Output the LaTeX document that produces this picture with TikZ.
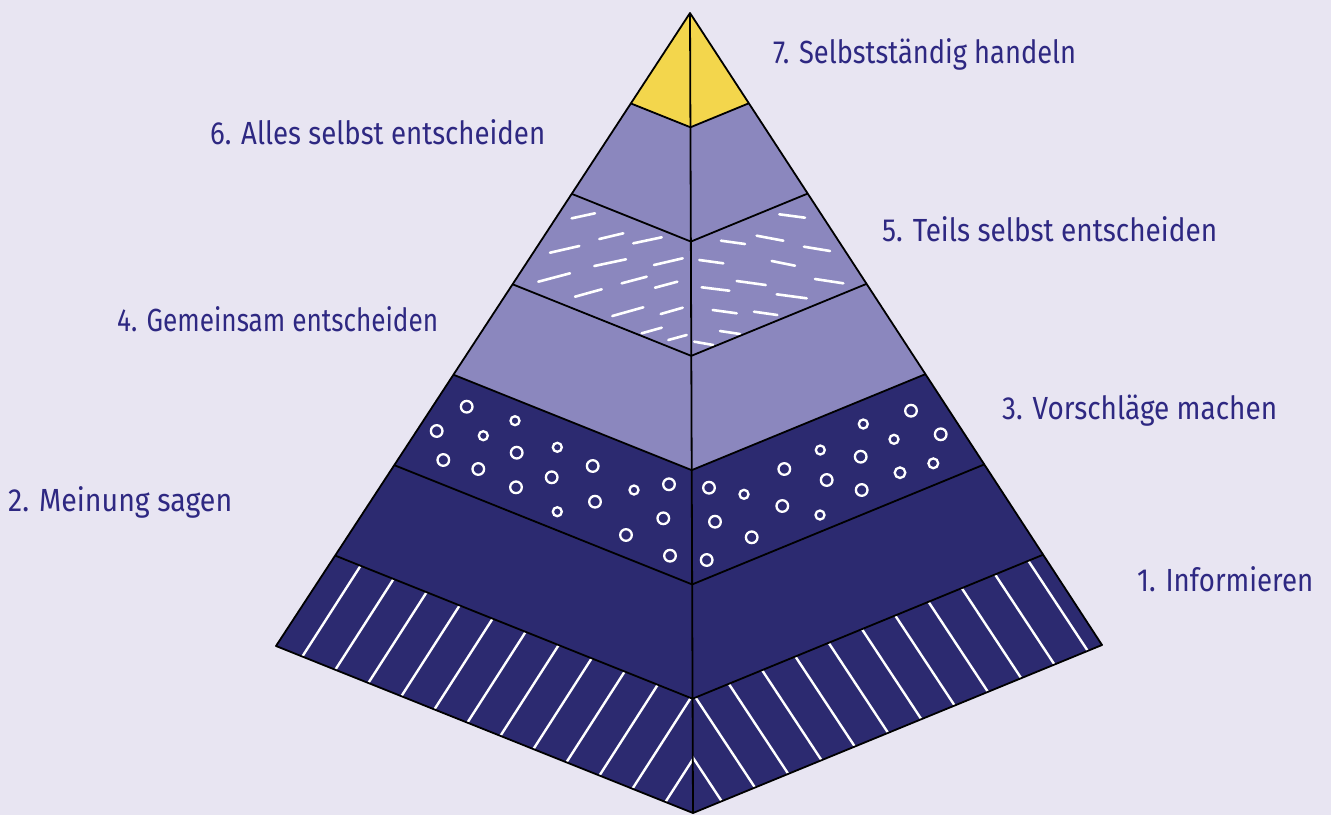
\documentclass[tikz,border=0pt]{standalone}
\usepackage{fontspec}
\setmainfont{Fira Sans}
\usetikzlibrary{calc}
\definecolor{bg}{HTML}{E8E5F2}
\definecolor{yel}{HTML}{F3D64C}
\definecolor{lite}{HTML}{8B87BE}
\definecolor{dark}{HTML}{2C2A70}
\definecolor{txt}{HTML}{2E2882}
\newcommand\fitw[2]{\resizebox{#1pt}{\height}{#2}}
\begin{document}
\begin{tikzpicture}[x=1pt,y=-1pt,
  edge/.style={draw=black,line width=1.8pt,line join=round},
  stripe/.style={draw=white,line width=2.4pt},
  dashmark/.style={draw=white,line width=2.6pt,line cap=round},
  ring/.style={draw=white,line width=2.3pt},
  lab/.style={font=\fontsize{32}{38}\selectfont,text=txt,anchor=base west,inner sep=0pt}]
\fill[bg] (0,0) rectangle (1331,815);
\useasboundingbox (0,0) rectangle (1331,815);
\coordinate (A) at (690,13);
\coordinate (L) at (276,646);
\coordinate (R) at (1102,645);
\coordinate (B) at (693,813);
\foreach \k in {1,...,6}{
  \coordinate (L\k) at ($(A)!{\k/7}!(L)$);
  \coordinate (C\k) at ($(A)!{\k/7}!(B)$);
  \coordinate (R\k) at ($(A)!{\k/7}!(R)$);
}
% bands
\fill[yel] (A) -- (L1) -- (C1) -- (R1) -- cycle;
\fill[lite] (L1) -- (L2) -- (C2) -- (R2) -- (R1) -- (C1) -- cycle;
\fill[lite] (L2) -- (L3) -- (C3) -- (R3) -- (R2) -- (C2) -- cycle;
\fill[lite] (L3) -- (L4) -- (C4) -- (R4) -- (R3) -- (C3) -- cycle;
\fill[dark] (L4) -- (L5) -- (C5) -- (R5) -- (R4) -- (C4) -- cycle;
\fill[dark] (L5) -- (L6) -- (C6) -- (R6) -- (R5) -- (C5) -- cycle;
\fill[dark] (L6) -- (L) -- (B) -- (R) -- (R6) -- (C6) -- cycle;
% stripes
\begin{scope}
\clip (L6) -- (L) -- (B) -- (C6) -- cycle;
\foreach \k in {-2,...,13}{
  \draw[stripe] ({338.6+41.5*\k+38.5},540) -- ({338.6+41.5*\k-141.2},820);
}
\end{scope}
\begin{scope}
\clip (C6) -- (B) -- (R) -- (R6) -- cycle;
\foreach \k in {-2,...,13}{
  \draw[stripe] ({631.2+42.3*\k-39.6},540) -- ({631.2+42.3*\k+145.2},820);
}
\end{scope}
% dashes
\foreach \xa/\ya/\xb/\yb in {
 571.7/218.3/595/213.3, 599.3/239/623.3/233.3, 633.3/243.3/661.7/237.3,
 550/252.7/579.3/246, 594.3/266/626/259.3, 654/265/682.7/258.3,
 538.3/281.7/570/273.3, 621.7/283.3/646.7/276.7, 655/287.7/677.3/281.7,
 575/296.7/601.7/289.3, 612.3/316/643.3/307.3, 660.7/314/682.7/307.7,
 641.7/333.3/661.7/327.7, 668.3/340/686.7/335,
 779.3/214.3/805/217.7, 721/240.7/745/244, 756.7/235.7/783.3/240.7,
 804/246.7/830/251, 699.3/260/723.3/263.3, 771.7/261/795/265.7,
 815/279/843.3/283.3, 736.7/281/765.7/285, 701.7/287.3/729.3/290.7,
 776.7/294.3/806.7/298.3, 712.7/310/736.7/313.3, 754/311.7/777.3/315,
 720/331/740/334, 694.3/341.7/713.3/345}{
  \draw[dashmark] (\xa,\ya) -- (\xb,\yb);
}
% rings
\foreach \x/\y/\r in {
 466.7/406.7/5.8, 515/420.7/4.5, 436.7/431/5.8, 483.3/435.7/4.5,
 516.7/452.7/5.8, 557.3/447.3/4.5, 443.3/460/5.8, 478.3/469/5.8,
 592.7/466/5.8, 551.7/477.3/5.8, 516/487.3/5.8, 634/490/4.5,
 669/484.3/5.8, 595/501.7/5.8, 557.3/511.7/4.5, 663.3/518.3/5.8,
 626/535/5.8, 670/555.7/5.8,
 911/410.7/5.8, 863.3/424/4.5, 940.7/434.3/5.8, 894/439.3/4.5,
 860.7/456.7/5.8, 820.3/450/4.5, 933.3/463.3/4.9, 900/472.7/5.3,
 784.3/469/5.8, 826.7/480/5.8, 861.7/490/5.8, 709/487.7/5.8,
 744/494.3/4.5, 782.3/506/5.8, 820/515/4.5, 715/521.7/5.8,
 751.7/537.3/5.8, 706.7/560/5.8}{
  \draw[ring] (\x,\y) circle[radius=\r];
}
% lines
\foreach \k in {1,...,6}{
  \draw[edge] (L\k) -- (C\k) -- (R\k);
}
\draw[edge] (A) -- (B);
\draw[edge] (A) -- (L) -- (B) -- (R) -- cycle;
% labels
\node[lab] (t7) at (773,63) {\fitw{303}{7. Selbstständig handeln}};
\node[lab] (t6) at (210,144) {\fitw{335}{6. Alles selbst entscheiden}};
\node[lab] (t5) at (882,241) {\fitw{335}{5. Teils selbst entscheiden}};
\node[lab] (t4) at (117,331) {\fitw{321}{4. Gemeinsam entscheiden}};
\node[lab] (t3) at (1002,419) {\fitw{275}{3. Vorschläge machen}};
\node[lab] (t2) at (8,511) {\fitw{224}{2. Meinung sagen}};
\node[lab] (t1) at (1137,591) {\fitw{176}{1. Informieren}};
\end{tikzpicture}
\end{document}
